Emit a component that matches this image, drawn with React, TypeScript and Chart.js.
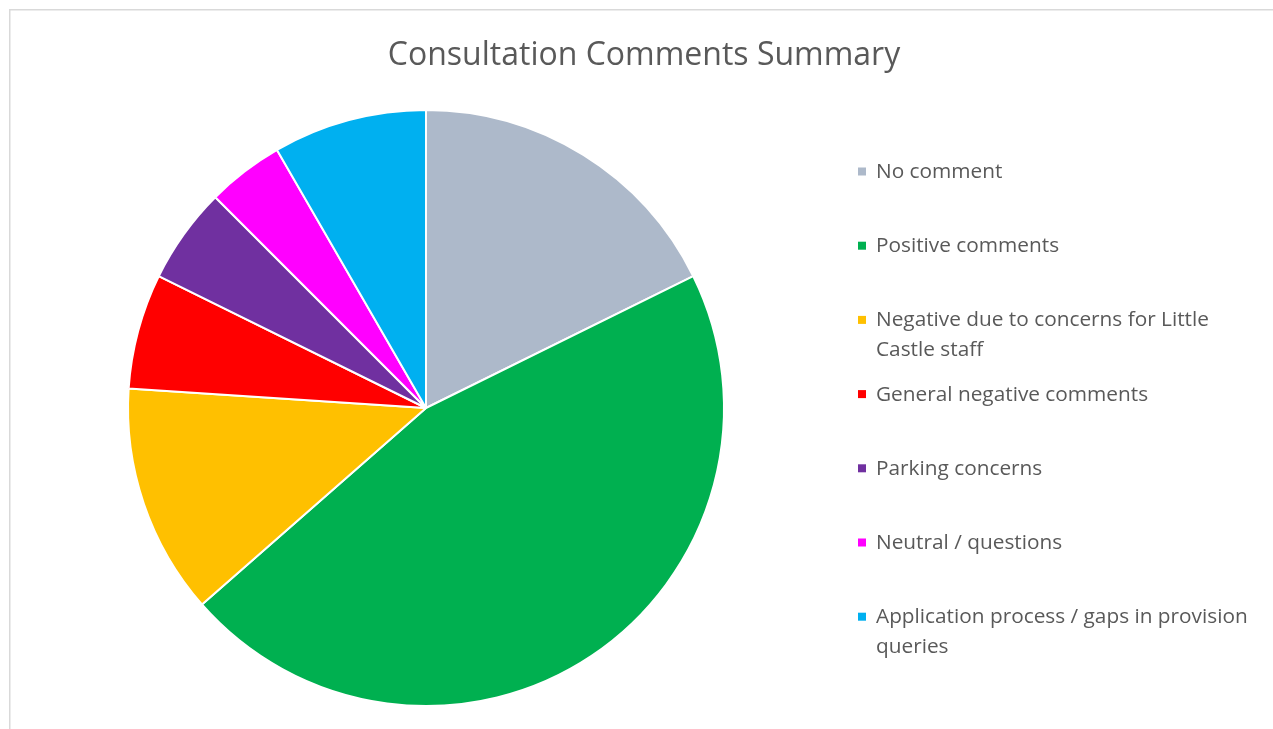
import React, { useEffect, useRef } from "react";
import { Chart, registerables } from "chart.js";

Chart.register(...registerables);

const chartTitle = "Consultation Comments Summary";
const categories = [
  "No comment",
  "Positive comments",
  "Negative due to concerns for Little Castle staff",
  "General negative comments",
  "Parking concerns",
  "Neutral / questions",
  "Application process / gaps in provision queries",
];
const counts = [17, 44, 12, 6, 5, 4, 8];
const sliceColors = ["#ADB9CA", "#00B050", "#FFC000", "#FF0000", "#7030A0", "#FF00FF", "#00B0F0"];

const FONT = "'Open Sans', 'Noto Sans', sans-serif";

function wrapText(ctx: CanvasRenderingContext2D, text: string, maxWidth: number): string[] {
  const words = text.split(" ");
  const lines: string[] = [];
  let cur = "";
  for (const w of words) {
    const test = cur ? cur + " " + w : w;
    if (ctx.measureText(test).width > maxWidth && cur) {
      lines.push(cur);
      cur = w;
    } else {
      cur = test;
    }
  }
  if (cur) lines.push(cur);
  return lines;
}

const decorPlugin = {
  id: "decor",
  beforeDraw(chart: any) {
    const ctx = chart.ctx as CanvasRenderingContext2D;
    ctx.save();
    ctx.fillStyle = "#ffffff";
    ctx.fillRect(0, 0, chart.width, chart.height);
    ctx.strokeStyle = "#d9d9d9";
    ctx.lineWidth = 1.5;
    ctx.beginPath();
    ctx.moveTo(9.75, chart.height);
    ctx.lineTo(9.75, 9.75);
    ctx.lineTo(chart.width, 9.75);
    ctx.stroke();
    ctx.restore();
  },
  afterDraw(chart: any) {
    const ctx = chart.ctx as CanvasRenderingContext2D;
    ctx.save();
    ctx.fillStyle = "#595959";
    ctx.textAlign = "center";
    ctx.textBaseline = "middle";
    ctx.font = `32px ${FONT}`;
    ctx.fillText(chartTitle, 644, 56);

    const labels = chart.data.labels as string[];
    const colors = chart.data.datasets[0].backgroundColor as string[];
    ctx.font = `20.8px ${FONT}`;
    ctx.textAlign = "left";
    labels.forEach((lab, i) => {
      const y = 172 + i * 74.2;
      ctx.fillStyle = colors[i];
      ctx.fillRect(858, y - 4.5, 8, 8);
      ctx.fillStyle = "#595959";
      const lines = wrapText(ctx, lab, 390);
      lines.forEach((ln, j) => ctx.fillText(ln, 876, y + j * 29.5));
    });
    ctx.restore();
  },
};

export default function App() {
  const ref = useRef<HTMLCanvasElement | null>(null);
  useEffect(() => {
    if (!ref.current) return;
    const chart = new Chart(ref.current, {
      type: "pie",
      data: {
        labels: categories,
        datasets: [
          {
            data: counts,
            backgroundColor: sliceColors,
            borderColor: "#ffffff",
            borderWidth: 2,
          },
        ],
      },
      options: {
        animation: false,
        responsive: true,
        maintainAspectRatio: false,
        layout: { padding: { left: 127, right: 548, top: 109, bottom: 22 } },
        plugins: {
          legend: { display: false },
          title: { display: false },
          tooltip: { enabled: false },
        },
        events: [],
      },
      plugins: [decorPlugin],
    });
    return () => chart.destroy();
  }, []);
  return (
    <div style={{ position: "fixed", left: 0, top: 0, width: 1273, height: 729, background: "#fff" }}>
      <canvas ref={ref} />
    </div>
  );
}
